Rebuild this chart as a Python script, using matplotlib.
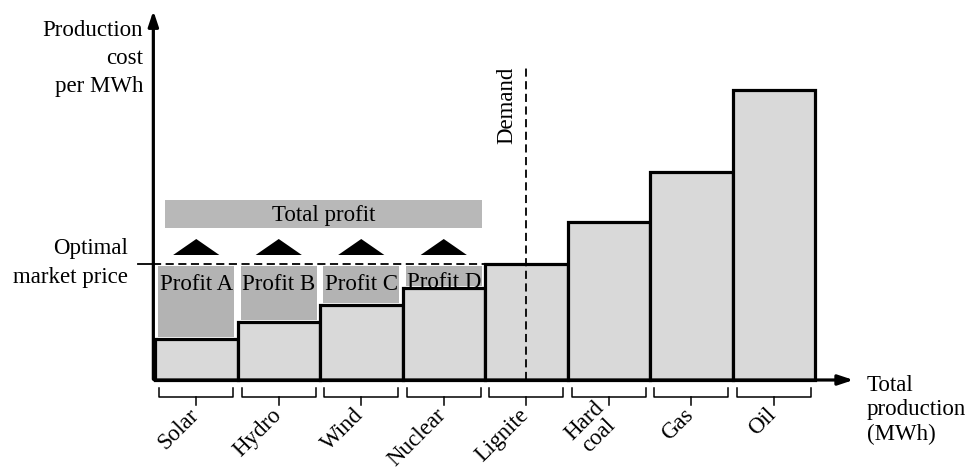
import numpy as np
import matplotlib
matplotlib.use('Agg')
import matplotlib.pyplot as plt
from matplotlib.patches import Rectangle, Polygon

plt.rcParams['font.family'] = ['Liberation Serif', 'DejaVu Serif']

# Merit order data (cost per MWh, arbitrary units)
sources = ['Solar', 'Hydro', 'Wind', 'Nuclear', 'Lignite', 'Hard\ncoal', 'Gas', 'Oil']
costs = [41, 58, 75, 92, 116, 158, 208, 290]
profit_labels = ['Profit A', 'Profit B', 'Profit C', 'Profit D']
market_price = 116
demand = 4.5

fs = 16.5

fig = plt.figure(figsize=(9.71, 4.71), dpi=100)
ax = fig.add_axes([0, 0, 1, 1])
ax.set_xlim(-155 / 82.5, (971 - 155) / 82.5)
ax.set_ylim(-91, 380)
ax.axis('off')

x = np.arange(len(costs))
ax.bar(x + 0.5, costs, width=1, color='#d9d9d9', edgecolor='black', linewidth=2.3, zorder=2)

# Profit areas between each cheap plant's cost and the market price
n_profit = len(profit_labels)
for i in range(n_profit):
    ax.add_patch(Rectangle((i + 0.04, costs[i] + 2), 0.92, market_price - costs[i] - 4,
                           facecolor='#b3b3b3', edgecolor='none', zorder=3))
    ax.text(i + 0.5, 95 if i < 3 else 98, profit_labels[i], ha='center', va='center',
            fontsize=fs, zorder=5)
    ax.add_patch(Polygon([[i + 0.22, 125], [i + 0.78, 125], [i + 0.5, 141]],
                         closed=True, facecolor='black', edgecolor='none', zorder=3))

# Total profit bar
ax.add_patch(Rectangle((0.12, 152), 3.84, 28, facecolor='#b8b8b8', edgecolor='none', zorder=2))
ax.text(2.04, 164, 'Total profit', ha='center', va='center', fontsize=fs, zorder=4)

# Market price and demand
ax.plot([-0.21, -0.02], [market_price, market_price], color='black', lw=1.3, zorder=4)
ax.plot([-0.02, n_profit], [market_price, market_price], color='black', lw=1.3,
        linestyle=(0, (4.5, 2.5)), zorder=4)
ax.plot([demand, demand], [0, 315], color='black', lw=1.3, linestyle=(0, (4.5, 2.5)), zorder=4)
ax.text(demand - 0.23, 275, 'Demand', rotation=90, ha='center', va='center', fontsize=fs)

# Axes with arrows
ax.annotate('', xy=(-0.02, 372), xytext=(-0.02, -2),
            arrowprops=dict(arrowstyle='-|>,head_length=0.9,head_width=0.3', color='black', lw=2.3),
            zorder=6)
ax.annotate('', xy=(8.5, 0), xytext=(-0.04, 0),
            arrowprops=dict(arrowstyle='-|>,head_length=0.9,head_width=0.3', color='black', lw=2.3),
            zorder=6)

# Braces and labels under each bar
for i, name in enumerate(sources):
    ax.plot([i + 0.05, i + 0.05, i + 0.95, i + 0.95], [-8, -17, -17, -8], color='black', lw=1.1)
    ax.plot([i + 0.5, i + 0.5], [-17, -25], color='black', lw=1.1)
    ax.text(i + 0.49, -32, name, rotation=45, ha='right', va='center', rotation_mode='anchor',
            multialignment='center', fontsize=fs, linespacing=1.0)

# Axis titles
ax.text(-0.145, 360, 'Production\ncost\nper MWh', ha='right', va='top', multialignment='right',
        fontsize=fs, linespacing=1.45)
ax.text(-0.33, 117, 'Optimal\nmarket price', ha='right', va='center', multialignment='right',
        fontsize=fs, linespacing=1.45)
ax.text(8.63, 5, 'Total\nproduction\n(MWh)', ha='left', va='top', multialignment='left',
        fontsize=fs, linespacing=1.2)

fig.savefig('out.png', dpi=100)
